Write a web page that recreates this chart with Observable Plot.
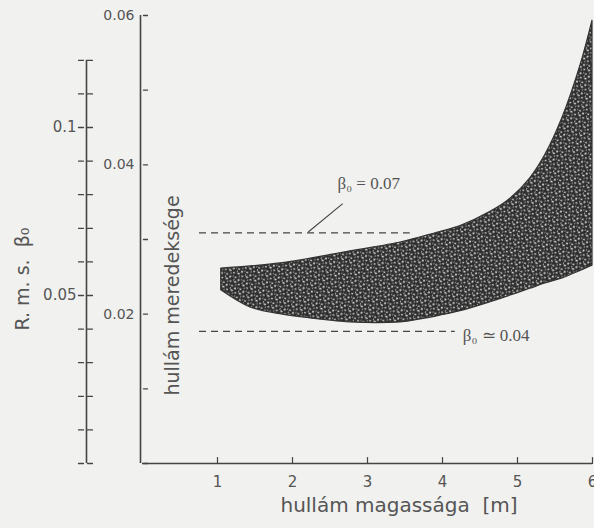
<!DOCTYPE html>
<html><head><meta charset="utf-8">
<script src="https://cdn.jsdelivr.net/npm/d3@7"></script>
<script src="https://cdn.jsdelivr.net/npm/@observablehq/plot@0.6"></script>
<style>
html,body{margin:0;padding:0;background:#f1f1ef;}
#chart{width:594px;height:528px;overflow:hidden;}
</style></head><body><div id="chart"></div>
<script>
// Band of observed wave steepness vs wave height
const bandX     = [1.05, 1.44, 1.84, 2.11, 2.77, 3.44, 3.71, 3.97, 4.24, 4.64, 4.91, 5.17, 5.37, 5.6, 5.84, 6.0];
const bandUpper = [0.0261, 0.0264, 0.0268, 0.0272, 0.0284, 0.0296, 0.0303, 0.0310, 0.0318, 0.0337, 0.0355, 0.0382, 0.0413, 0.0463, 0.0533, 0.0593];
const bandLower = [0.0232, 0.0209, 0.0200, 0.0196, 0.0189, 0.0189, 0.0193, 0.0198, 0.0204, 0.0216, 0.0225, 0.0234, 0.0241, 0.0248, 0.0258, 0.0265];

// Reference dashed levels
const refLevels = [0.0309, 0.0177];
const refStart  = [0.76, 0.76];
const refEnd    = [3.57, 4.17];
const refLabels = ["β₀ = 0.07", "β₀ ≃ 0.04"];
const refLabelX = [2.6, 4.27];
const refLabelY = [0.0375, 0.0172];
const leaderX   = [2.67, 2.21];
const leaderY   = [0.0348, 0.0310];

// Axes
const xTicks       = [1, 2, 3, 4, 5, 6];
const yTicks       = [0, 0.01, 0.02, 0.03, 0.04, 0.05, 0.06];
const yTickLabels  = [0.02, 0.04, 0.06];
const rmsTicks     = [0, 0.01, 0.02, 0.03, 0.04, 0.05, 0.06, 0.07, 0.08, 0.09, 0.10, 0.11, 0.12];
const rmsTickLabels = [0.05, 0.1];
const rmsToSteep   = 0.45;   // R.m.s. β0 axis position relative to steepness axis
const xTitle = "hullám magassága  [m]";
const yTitle = "hullám meredeksége";
const rmsTitle = "R. m. s.  β₀";

const band = bandX.map((x, i) => ({x, y1: bandLower[i], y2: bandUpper[i]}));
const refs = refLevels.map((y, i) => ({y, x1: refStart[i], x2: refEnd[i], label: refLabels[i], lx: refLabelX[i], ly: refLabelY[i]}));
const leader = [{x1: leaderX[0], y1: leaderY[0], x2: leaderX[1], y2: leaderY[1]}];

const tickShape = {draw(ctx, l) { ctx.moveTo(0, 0); ctx.lineTo(0, -l); }};
const ink = "#444";
const textInk = "#555";

const plot = Plot.plot({
  width: 594, height: 528,
  marginLeft: 142, marginRight: 2, marginTop: 15, marginBottom: 65,
  style: {background: "#f1f1ef", fontFamily: "DejaVu Sans, sans-serif", fontSize: "14px", color: textInk, overflow: "visible"},
  x: {domain: [0, 6], axis: null},
  y: {domain: [0, 0.06], axis: null},
  marks: [
    Plot.areaY(band, {x: "x", y1: "y1", y2: "y2", curve: "catmull-rom", fill: "url(#speckle)", stroke: "#333", strokeWidth: 1.2}),
    Plot.ruleY(refs, {y: "y", x1: "x1", x2: "x2", stroke: ink, strokeWidth: 1.3, strokeDasharray: "7,5"}),
    Plot.link(leader, {x1: "x1", y1: "y1", x2: "x2", y2: "y2", stroke: ink, strokeWidth: 1.1}),
    Plot.text(refs, {x: "lx", y: "ly", text: "label", textAnchor: "start", fontFamily: "Liberation Serif, serif", fontSize: 17, fill: textInk}),
    // main axes
    Plot.ruleX([0], {y1: 0, y2: 0.06, stroke: ink, strokeWidth: 1.6, dx: -2}),
    Plot.ruleY([0], {stroke: ink, strokeWidth: 1.6}),
    Plot.vector(yTicks, {y: d => d, frameAnchor: "left", rotate: 90, length: 4, anchor: "start", dx: 1, shape: tickShape, stroke: ink, strokeWidth: 1.3}),
    Plot.vector(xTicks, {x: d => d, frameAnchor: "bottom", rotate: 0, length: 6, anchor: "start", shape: tickShape, stroke: ink, strokeWidth: 1.2}),
    Plot.axisY({ticks: yTickLabels, tickSize: 0, tickPadding: 8, tickFormat: d => d.toFixed(2), label: null, fontSize: 14, fill: textInk}),
    Plot.axisX({ticks: xTicks, tickSize: 0, tickPadding: 13, tickFormat: d => String(d), label: null, fontSize: 15, fill: textInk}),
    // R.m.s. axis
    Plot.ruleX([0], {y1: 0, y2: 0.12 * rmsToSteep, dx: -56, stroke: ink, strokeWidth: 1.6}),
    Plot.vector(rmsTicks, {y: d => d * rmsToSteep, frameAnchor: "left", dx: -56, rotate: 90, length: 16, anchor: "middle", shape: tickShape, stroke: ink, strokeWidth: 1.3, strokeDasharray: "5,4"}),
    Plot.text(rmsTickLabels, {y: d => d * rmsToSteep, frameAnchor: "left", dx: -66, text: d => String(d), textAnchor: "end", fontSize: 15, fill: textInk}),
    // titles
    Plot.text([yTitle], {frameAnchor: "left", y: 0.0225, dx: 30, rotate: -90, textAnchor: "middle", text: d => d, fontSize: 19, fill: textInk}),
    Plot.text([rmsTitle], {frameAnchor: "left", y: 0.0247, dx: -120, rotate: -90, textAnchor: "middle", text: d => d, fontSize: 19, fill: textInk}),
    Plot.text([xTitle], {x: 3.42, frameAnchor: "bottom", dy: 48, textAnchor: "middle", text: d => d, fontSize: 20, fill: textInk})
  ]
});

// speckled texture for the band
const svg = d3.select(plot);
const defs = svg.insert("defs", ":first-child");
const pat = defs.append("pattern").attr("id", "speckle").attr("patternUnits", "userSpaceOnUse")
  .attr("width", 9).attr("height", 9).attr("patternTransform", "rotate(23)");
pat.append("rect").attr("width", 9).attr("height", 9).attr("fill", "#2e2e2e");
[[1.2,1.3,1.1,0.8],[5,2.6,0.9,1.2],[2.6,5.6,1.3,0.9],[7,6.6,0.9,0.9],[7.6,1,0.6,0.6],[0.5,4,0.6,0.7],[4.4,8,0.7,0.5]].forEach(([cx,cy,rx,ry]) =>
  pat.append("ellipse").attr("cx", cx).attr("cy", cy).attr("rx", rx).attr("ry", ry).attr("fill", "#e2e2e0"));

document.getElementById("chart").append(plot);
</script></body></html>
